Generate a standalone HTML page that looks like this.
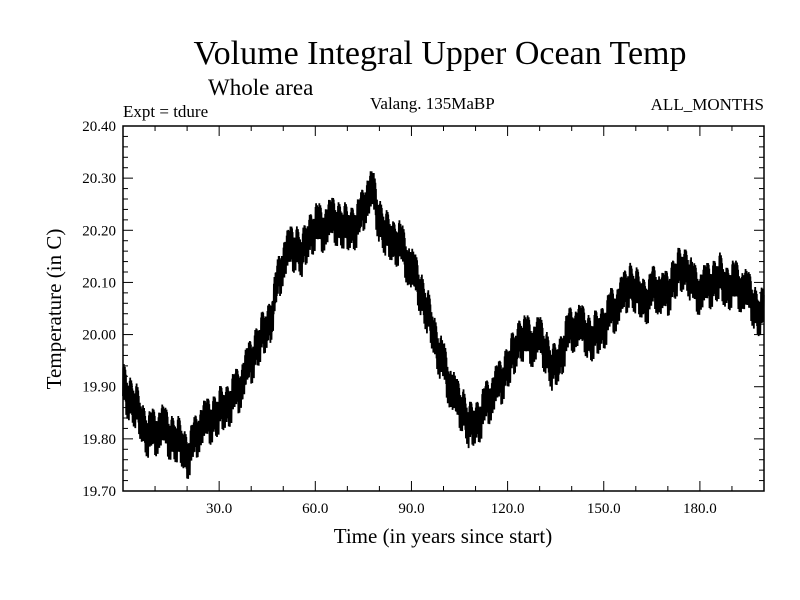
<!DOCTYPE html>
<html><head><meta charset="utf-8"><style>
body{margin:0;background:#fff}
svg{display:block;font-family:"Liberation Serif",serif}
</style></head><body>
<svg id="chart" width="800" height="600">
<text x="440" y="64" font-size="34" text-anchor="middle">Volume Integral Upper Ocean Temp</text>
<text x="208" y="95" font-size="23">Whole area</text>
<text x="123" y="117" font-size="17">Expt = tdure</text>
<text x="370" y="109" font-size="17">Valang.  135MaBP</text>
<text x="764" y="110" font-size="17" text-anchor="end">ALL_MONTHS</text>
<text x="443" y="543" font-size="21" text-anchor="middle">Time (in years since start)</text>
<text transform="translate(61,309) rotate(-90)" font-size="21" text-anchor="middle">Temperature (in C)</text>
<g id="ticks"></g>
<path id="series" fill="none" stroke="#000" stroke-width="1.8"/>
<rect x="123" y="126" width="641" height="365" fill="none" stroke="#000" stroke-width="1.5"/>
</svg>
<script>
const years=[0,2,4,6,8,10,12,14,16,18,20,22,24,26,28,30,32,34,36,38,40,42,44,46,48,50,52,54,56,58,60,62,64,66,68,70,72,74,76,78,80,82,84,86,88,90,92,94,96,98,100,102,104,106,108,110,112,114,116,118,120,122,124,126,128,130,132,134,136,138,140,142,144,146,148,150,152,154,156,158,160,162,164,166,168,170,172,174,176,178,180,182,184,186,188,190,192,194,196,198,200];
const annualMean=[19.90,19.88,19.86,19.83,19.81,19.81,19.82,19.81,19.80,19.79,19.77,19.79,19.82,19.83,19.84,19.85,19.86,19.88,19.89,19.92,19.95,19.98,20.00,20.03,20.09,20.14,20.16,20.17,20.15,20.19,20.21,20.20,20.21,20.22,20.21,20.20,20.21,20.22,20.26,20.27,20.22,20.19,20.18,20.18,20.15,20.12,20.10,20.06,20.02,19.98,19.94,19.90,19.87,19.86,19.82,19.83,19.85,19.87,19.89,19.91,19.94,19.96,20.00,19.99,19.98,19.99,19.97,19.93,19.95,19.99,20.01,20.01,20.01,19.99,20.00,20.02,20.04,20.05,20.07,20.10,20.08,20.07,20.07,20.09,20.07,20.08,20.11,20.12,20.13,20.09,20.08,20.09,20.10,20.11,20.09,20.10,20.09,20.08,20.07,20.04,20.04];
const seasonal=[-0.030,0.026,-0.016,0.034,-0.034,0.014,-0.024,0.032,-0.010,0.028,-0.032,0.020];
const interannual=[0.012,-0.014,0.006,-0.009,0.016,-0.006,0.003,-0.016,0.009,0.014,-0.011,0.000,0.013];
const xTickLabels=["30.0","60.0","90.0","120.0","150.0","180.0"];
const yTickLabels=["19.70","19.80","19.90","20.00","20.10","20.20","20.30","20.40"];
const X0=123,X1=764,Y0=491,Y1=126,xmin=0,xmax=200,ymin=19.7,ymax=20.4;
const sx=v=>X0+(v-xmin)/(xmax-xmin)*(X1-X0);
const sy=v=>Y0-(v-ymin)/(ymax-ymin)*(Y0-Y1);
const NS="http://www.w3.org/2000/svg";
const tg=document.getElementById('ticks');
function ln(x1,y1,x2,y2){const l=document.createElementNS(NS,'line');l.setAttribute('x1',x1);l.setAttribute('y1',y1);l.setAttribute('x2',x2);l.setAttribute('y2',y2);l.setAttribute('stroke','#000');


tg.appendChild(l);}
function tx(x,y,s,a){const t=document.createElementNS(NS,'text');t.setAttribute('x',x);t.setAttribute('y',y);t.setAttribute('font-size','15');t.setAttribute('text-anchor',a);t.textContent=s;


tg.appendChild(t);}
for(let v=10;v<200;v+=10){const x=sx(v),L=v%30===0?10:5;ln(x,Y0,x,Y0-L);ln(x,Y1,x,Y1+L);}
xTickLabels.forEach(s=>tx(sx(parseFloat(s)),513,s,'middle'));
for(let i=1;i<35;i++){const v=ymin+i*0.02,y=sy(v),L=i%5===0?10:5;ln(X0,y,X0+L,y);ln(X1,y,X1-L,y);}
yTickLabels.forEach(s=>tx(116,sy(parseFloat(s))+5,s,'end'));
let d='';
for(let m=0;m<2400;m++){const t=m/12;const k=Math.min(Math.floor(t/2),years.length-2);const f=(t-years[k])/(years[k+1]-years[k]);
const base=annualMean[k]+(annualMean[k+1]-annualMean[k])*f;
const v=base+seasonal[m%12]+interannual[Math.floor(t)%interannual.length];
d+=(m?'L':'M')+sx(t).toFixed(2)+','+sy(v).toFixed(2);}
document.getElementById('series').setAttribute('d',d);
</script>
</body></html>
